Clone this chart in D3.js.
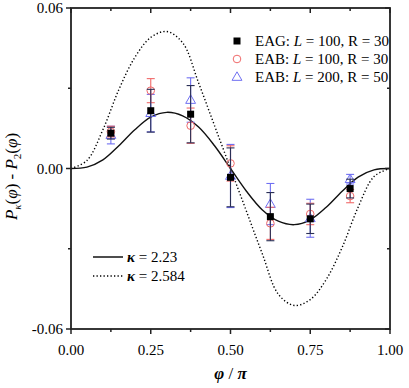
<!DOCTYPE html>
<html>
<head>
<meta charset="utf-8">
<script src="https://cdn.jsdelivr.net/npm/d3@7"></script>
<style>
  body { margin: 0; background: #fff; }
  svg text { font-family: "Liberation Serif", "DejaVu Serif", serif; fill: #000; }
</style>
</head>
<body>
<div id="chart"></div>
<script>
var totalWidth = 409;
var totalHeight = 388;
var margin = { top: 8, right: 19, bottom: 59, left: 71 };
var width = totalWidth - margin.left - margin.right,
    height = totalHeight - margin.top - margin.bottom;

// data
var phiPoints = [0.125, 0.25, 0.375, 0.5, 0.625, 0.75, 0.875];
var eagValues = [0.0132, 0.0216, 0.0203, -0.0033, -0.0180, -0.0188, -0.0075];
var eagErrors = [0.0022, 0.0080, 0.0107, 0.0110, 0.0090, 0.0055, 0.0035];
var eab100Values = [0.0138, 0.0291, 0.0160, 0.0019, -0.0205, -0.0170, -0.0103];
var eab100Errors = [0.0020, 0.0045, 0.0066, 0.0066, 0.0060, 0.0040, 0.0025];
var eab200Values = [0.0125, 0.0207, 0.0256, -0.0028, -0.0133, -0.0186, -0.0040];
var eab200Errors = [0.0033, 0.0070, 0.0083, 0.0118, 0.0077, 0.0071, 0.0018];

var curvePhi = [0, 0.05, 0.1, 0.15, 0.2, 0.25, 0.3, 0.35, 0.4, 0.45, 0.5,
                0.55, 0.6, 0.65, 0.7, 0.75, 0.8, 0.85, 0.9, 0.95, 1];
var kappa223 = [0, 0.0005, 0.0032, 0.0085, 0.0145, 0.0192, 0.0210, 0.0197, 0.0155, 0.0085, 0,
                -0.0085, -0.0155, -0.0197, -0.0210, -0.0192, -0.0145, -0.0085, -0.0032, -0.0005, 0];
var kappa2584 = [0, 0.0030, 0.0145, 0.0295, 0.0415, 0.0490, 0.0512, 0.0470, 0.0320, 0.0160, 0,
                 -0.0160, -0.0320, -0.0470, -0.0512, -0.0490, -0.0415, -0.0295, -0.0145, -0.0030, 0];

var xTicks = [0, 0.25, 0.5, 0.75, 1];
var xMinor = [0.125, 0.375, 0.625, 0.875];
var yTicks = [-0.06, 0, 0.06];
var yMinor = [-0.03, 0.03];

var svg = d3.select("#chart").append("svg")
    .attr("width", totalWidth)
    .attr("height", totalHeight)
    .append("g")
    .attr("transform", "translate(" + margin.left + "," + margin.top + ")");

var xScale = d3.scaleLinear().domain([0, 1]).range([0, width]);
var yScale = d3.scaleLinear().domain([-0.06, 0.06]).range([height, 0]);

// curves
function curveData(vals) {
    return curvePhi.map(function (p, i) { return [p, vals[i]]; });
}
var line = d3.line()
    .x(function (d) { return xScale(d[0]); })
    .y(function (d) { return yScale(d[1]); })
    .curve(d3.curveCatmullRom);

svg.append("path")
    .attr("d", line(curveData(kappa2584)))
    .attr("fill", "none")
    .attr("stroke", "#000")
    .attr("stroke-width", 1.4)
    .attr("stroke-dasharray", "1.3,2.2");

svg.append("path")
    .attr("d", line(curveData(kappa223)))
    .attr("fill", "none")
    .attr("stroke", "#111")
    .attr("stroke-width", 1.4);

// series
var series = [
    { name: "eab200", values: eab200Values, errors: eab200Errors, color: "#6f6ff2", shape: "triangle" },
    { name: "eab100", values: eab100Values, errors: eab100Errors, color: "#f06a6a", shape: "circle" },
    { name: "eag", values: eagValues, errors: eagErrors, color: "#000", barColor: "#2a2f55", shape: "square" }
];
var capW = 4;

series.forEach(function (s) {
    var pts = phiPoints.map(function (p, i) { return { x: p, y: s.values[i], e: s.errors[i] }; });
    var g = svg.append("g");
    var bc = s.barColor || s.color;
    g.selectAll(".vbar").data(pts).enter().append("line")
        .attr("x1", function (d) { return xScale(d.x); })
        .attr("x2", function (d) { return xScale(d.x); })
        .attr("y1", function (d) { return yScale(d.y + d.e); })
        .attr("y2", function (d) { return yScale(d.y - d.e); })
        .attr("stroke", bc).attr("stroke-width", 1.1);
    [1, -1].forEach(function (sign) {
        g.selectAll(".cap").data(pts).enter().append("line")
            .attr("x1", function (d) { return xScale(d.x) - capW; })
            .attr("x2", function (d) { return xScale(d.x) + capW; })
            .attr("y1", function (d) { return yScale(d.y + sign * d.e); })
            .attr("y2", function (d) { return yScale(d.y + sign * d.e); })
            .attr("stroke", bc).attr("stroke-width", 1.1);
    });
    drawMarkers(g, pts, s);
});

function drawMarkers(g, pts, s) {
    if (s.shape == "square") {
        g.selectAll(".mk").data(pts).enter().append("rect")
            .attr("x", function (d) { return xScale(d.x) - 3.5; })
            .attr("y", function (d) { return yScale(d.y) - 3.5; })
            .attr("width", 7).attr("height", 7)
            .attr("fill", "#000");
    } else if (s.shape == "circle") {
        g.selectAll(".mk").data(pts).enter().append("circle")
            .attr("cx", function (d) { return xScale(d.x); })
            .attr("cy", function (d) { return yScale(d.y); })
            .attr("r", 3.8)
            .attr("fill", "none").attr("stroke", s.color).attr("stroke-width", 1);
    } else {
        var tri = d3.symbol().type(d3.symbolTriangle).size(42);
        g.selectAll(".mk").data(pts).enter().append("path")
            .attr("d", tri)
            .attr("transform", function (d) { return "translate(" + xScale(d.x) + "," + (yScale(d.y) + 0.5) + ")"; })
            .attr("fill", "none").attr("stroke", s.color).attr("stroke-width", 1);
    }
}

// frame and ticks
var axisColor = "#222";
svg.append("rect")
    .attr("x", 0).attr("y", 0).attr("width", width).attr("height", height)
    .attr("fill", "none").attr("stroke", axisColor).attr("stroke-width", 1.8);

function tickLines(vals, horiz, len, pos) {
    svg.selectAll(null).data(vals).enter().append("line")
        .attr("x1", function (d) { return horiz ? xScale(d) : pos; })
        .attr("x2", function (d) { return horiz ? xScale(d) : pos + len; })
        .attr("y1", function (d) { return horiz ? pos : yScale(d); })
        .attr("y2", function (d) { return horiz ? pos + len : yScale(d); })
        .attr("stroke", axisColor).attr("stroke-width", 1.5);
}
tickLines(xTicks, true, 5, height);
tickLines(xMinor, true, 3, height);
tickLines(xTicks, true, 5, 0);
tickLines(xMinor, true, 3, 0);
tickLines(yTicks, false, -5, 0);
tickLines(yMinor, false, -3, 0);
tickLines(yTicks, false, -5, width);
tickLines(yMinor, false, -3, width);

svg.selectAll(".xl").data(xTicks).enter().append("text")
    .attr("x", function (d) { return xScale(d); })
    .attr("y", height + 26)
    .attr("text-anchor", "middle")
    .style("font-size", "15px")
    .text(function (d) { return d.toFixed(2); });

svg.selectAll(".yl").data(yTicks).enter().append("text")
    .attr("x", -8)
    .attr("y", function (d) { return yScale(d) + 5; })
    .attr("text-anchor", "end")
    .style("font-size", "15px")
    .text(function (d) { return d.toFixed(2); });

// axis titles
var xt = svg.append("text")
    .attr("x", width / 2).attr("y", height + 50)
    .attr("text-anchor", "middle")
    .style("font-size", "17px");
xt.append("tspan").style("font-style", "italic").style("font-weight", "bold").text("\u03c6");
xt.append("tspan").text(" / ");
xt.append("tspan").style("font-style", "italic").style("font-weight", "bold").text("\u03c0");

var yt = svg.append("text")
    .attr("transform", "translate(" + (17 - margin.left) + "," + (height / 2 + 8) + ") rotate(-90)")
    .attr("text-anchor", "middle")
    .style("font-size", "17px");
yt.append("tspan").style("font-style", "italic").text("P");
yt.append("tspan").attr("dy", 4).style("font-size", "11px").style("font-style", "italic").text("\u03ba");
yt.append("tspan").attr("dy", -4).text("(");
yt.append("tspan").style("font-style", "italic").text("\u03c6");
yt.append("tspan").text(") - ");
yt.append("tspan").style("font-style", "italic").text("P");
yt.append("tspan").attr("dy", 4).style("font-size", "11px").text("2");
yt.append("tspan").attr("dy", -4).text("(");
yt.append("tspan").style("font-style", "italic").text("\u03c6");
yt.append("tspan").text(")");

// legend (top right)
var legendRows = [
    { s: series[2], pre: "EAG: ", n: "100", r: "30" },
    { s: series[1], pre: "EAB: ", n: "100", r: "30" },
    { s: series[0], pre: "EAB: ", n: "200", r: "50" }
];
legendRows.forEach(function (row, i) {
    var ly = 33 + i * 18;
    var lg = svg.append("g");
    drawMarkers(lg, [{ x: xScale.invert(166), y: yScale.invert(ly) }], row.s);
    var t = lg.append("text").attr("x", 184).attr("y", ly + 5).style("font-size", "15px");
    t.append("tspan").text(row.pre);
    t.append("tspan").style("font-style", "italic").text("L");
    t.append("tspan").text(" = " + row.n + ", R = " + row.r);
});

// legend (curves)
var curveLegend = [
    { label: "2.23", dash: null, ly: 249 },
    { label: "2.584", dash: "1.3,2.2", ly: 268 }
];
curveLegend.forEach(function (c) {
    svg.append("line")
        .attr("x1", 22).attr("x2", 52).attr("y1", c.ly).attr("y2", c.ly)
        .attr("stroke", "#000").attr("stroke-width", 1.4)
        .attr("stroke-dasharray", c.dash);
    var t = svg.append("text").attr("x", 56).attr("y", c.ly + 5).style("font-size", "15px");
    t.append("tspan").style("font-style", "italic").style("font-weight", "bold").text("\u03ba");
    t.append("tspan").text(" = " + c.label);
});
</script>
</body>
</html>
